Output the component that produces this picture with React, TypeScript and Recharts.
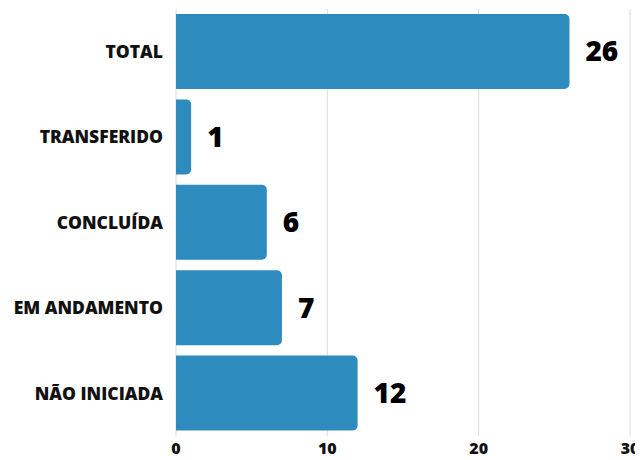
import { BarChart, Bar, XAxis, YAxis, CartesianGrid, LabelList } from "recharts";

const categories = ["TOTAL", "TRANSFERIDO", "CONCLUÍDA", "EM ANDAMENTO", "NÃO INICIADA"];
const values = [26, 1, 6, 7, 12];
const xTicks = [0, 10, 20, 30];

const data = categories.map((name, i) => ({ name, value: values[i] }));

const font = "'Open Sans', sans-serif";

export default function App() {
  return (
    <div style={{ margin: "-8px 0 0 -8px", width: 643, height: 460, background: "#fff" }}>
      <BarChart
        width={643}
        height={460}
        data={data}
        layout="vertical"
        margin={{ top: 9, right: 13, bottom: 0, left: 0 }}
        barSize={75}
      >
        <CartesianGrid horizontal={false} stroke="#dcdcdc" />
        <XAxis
          type="number"
          domain={[0, 30]}
          ticks={xTicks}
          height={24}
          axisLine={false}
          tickLine={false}
          tickSize={0}
          tickMargin={7}
          tick={{ fill: "#111", fontSize: 16, fontWeight: 800, fontFamily: font }}
        />
        <YAxis
          type="category"
          dataKey="name"
          width={176}
          axisLine={false}
          tickLine={false}
          tickSize={0}
          tickMargin={13}
          tick={{ fill: "#111", fontSize: 17.5, fontWeight: 800, fontFamily: font }}
        />
        <Bar dataKey="value" fill="#2e8bbd" radius={[0, 5, 5, 0]} isAnimationActive={false}>
          <LabelList
            dataKey="value"
            position="right"
            offset={16}
            style={{ fill: "#000", fontSize: 28, fontWeight: 800, fontFamily: font }}
          />
        </Bar>
      </BarChart>
    </div>
  );
}
